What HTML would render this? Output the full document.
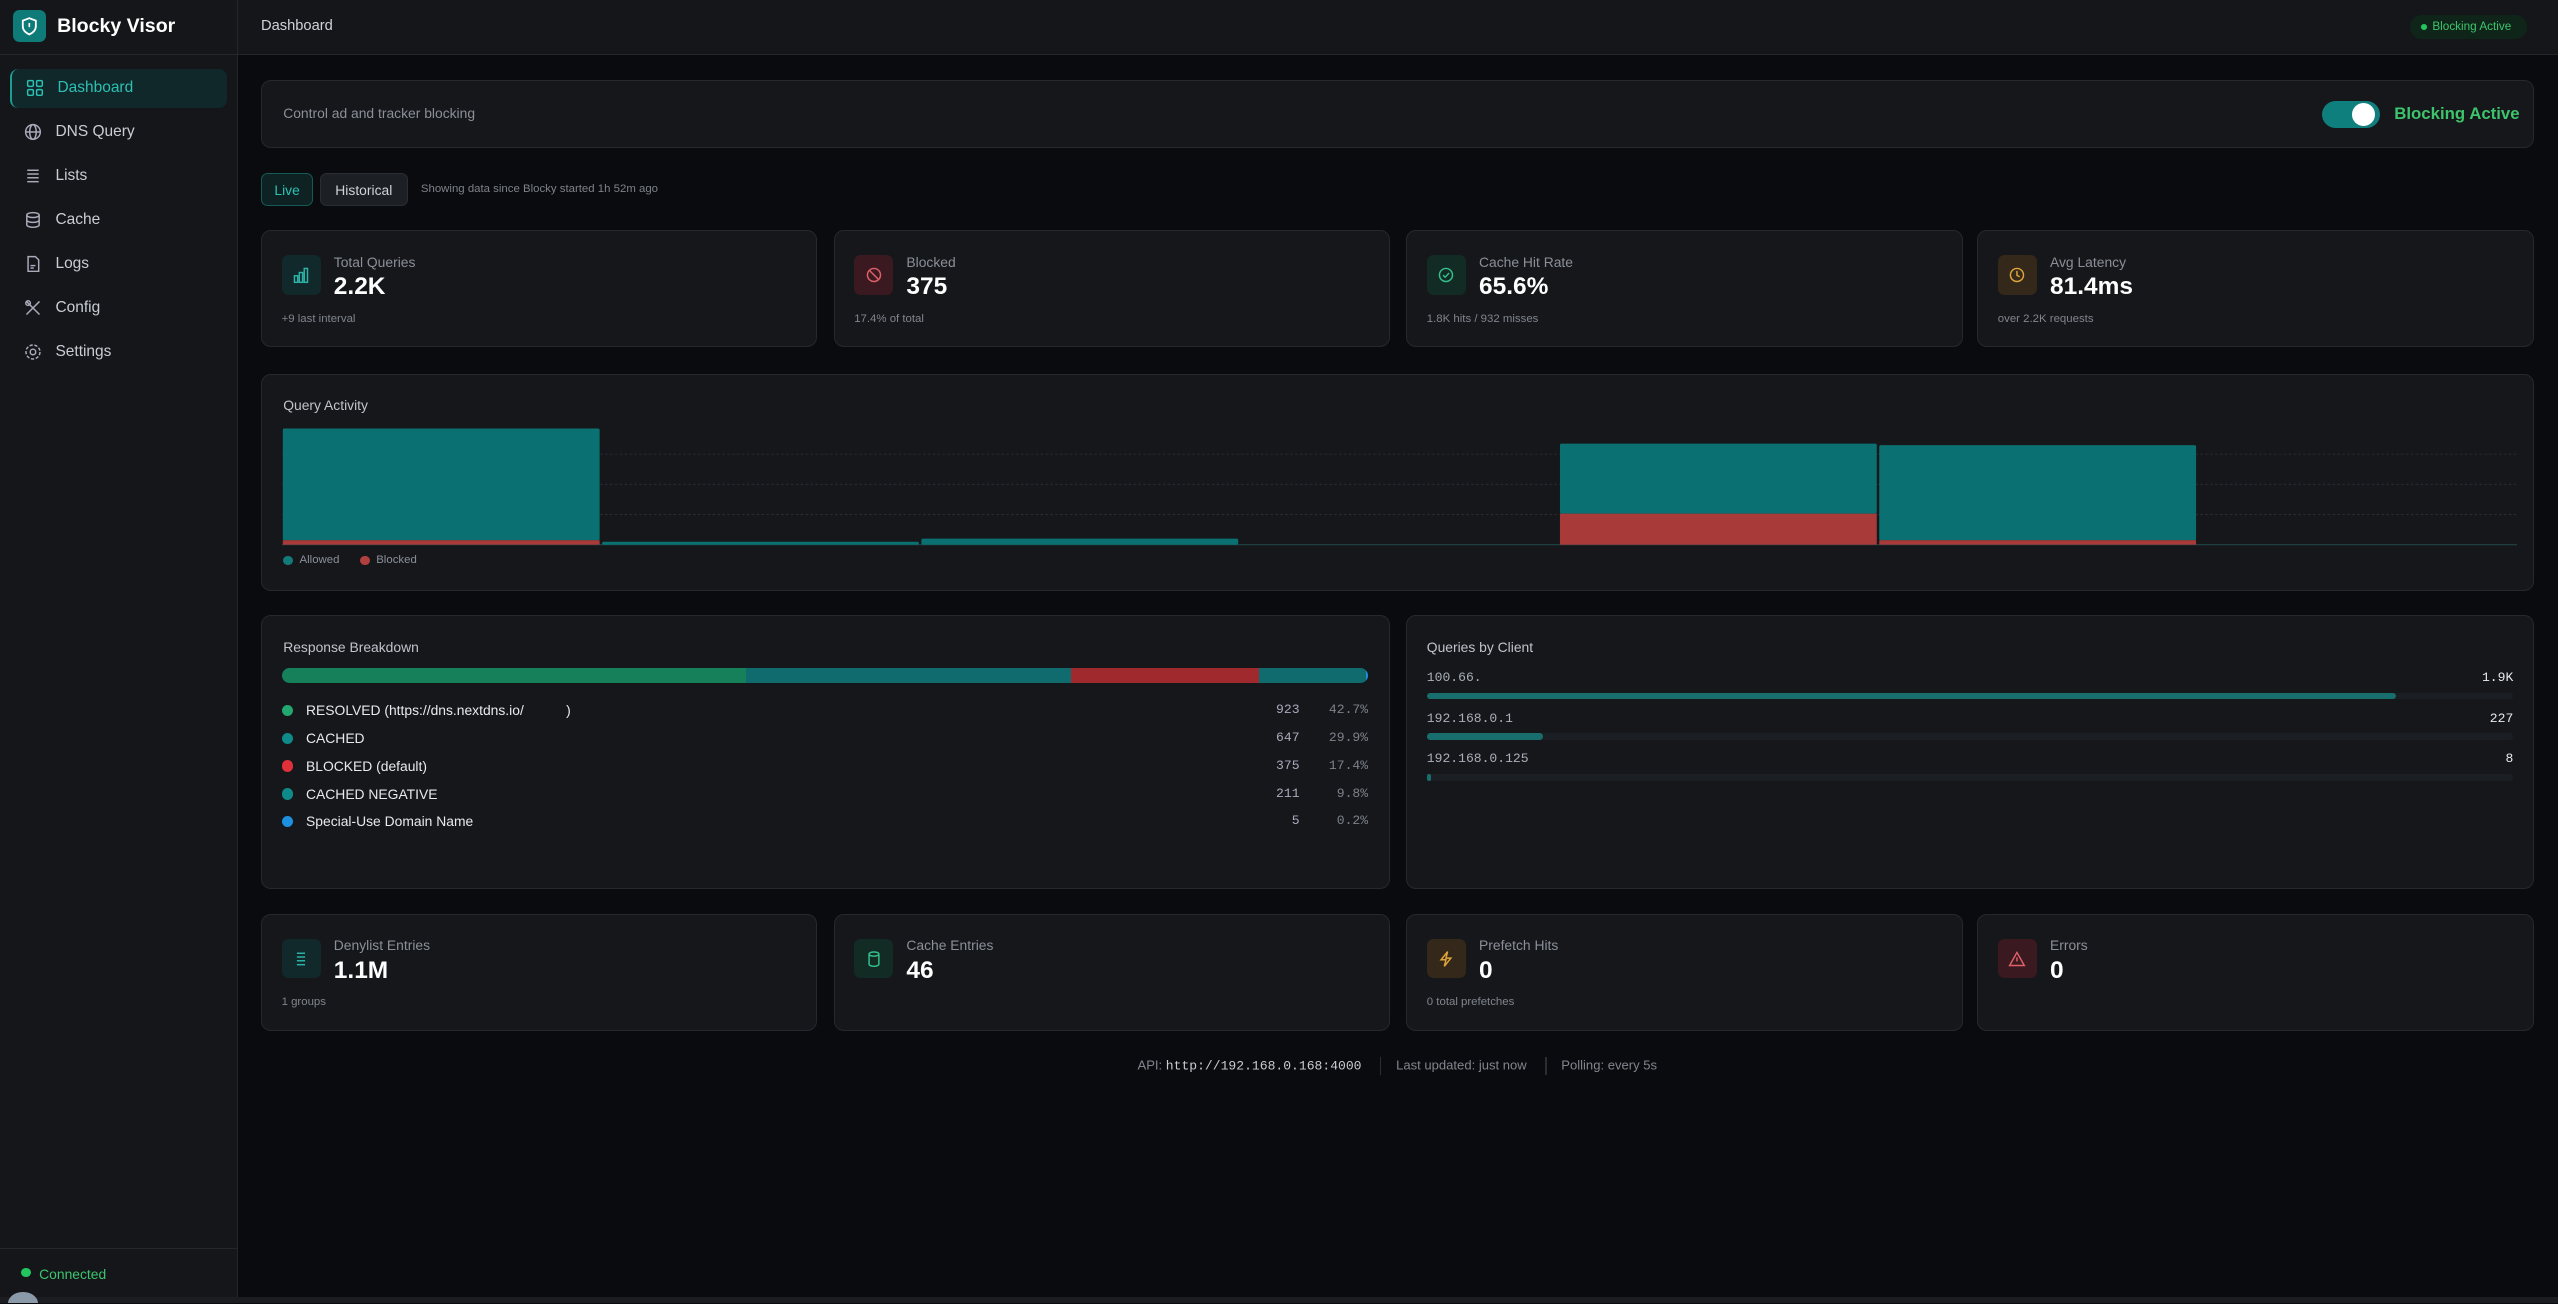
<!DOCTYPE html>
<html><head><meta charset="utf-8">
<style>
html,body{margin:0;padding:0;background:#0a0b0e;overflow:hidden;}
#root{zoom:1.63138;width:1568px;height:799px;position:relative;font-family:"Liberation Sans",sans-serif;color:#e5e7eb;background:#0a0b0e;overflow:hidden;}
.abs{position:absolute;}
.sidebar{left:0;top:0;width:145px;height:799px;background:#14161a;border-right:1px solid #23262b;}
.nav{position:absolute;left:6px;width:132px;height:24px;font-size:9.5px;color:#c9cdd3;display:flex;align-items:center;}
.nav svg{position:absolute;left:9px;}
.nav span{position:absolute;left:28px;}
.card{position:absolute;background:#15171b;border:1px solid #25282d;border-radius:6px;box-sizing:border-box;}
.stat .ib{position:absolute;left:12px;top:15px;width:24px;height:24px;border-radius:4px;display:flex;align-items:center;justify-content:center;}
.stat .lb{position:absolute;left:44px;top:14px;font-size:8.5px;color:#8b9098;}
.stat .vl{position:absolute;left:44px;top:26px;font-size:15px;font-weight:bold;color:#fff;}
.stat .sb{position:absolute;left:12px;top:50px;font-size:7px;color:#80858d;}
.mono{font-family:"Liberation Mono",monospace;}
.rrow{position:absolute;left:12px;width:666px;height:12px;font-size:8.5px;color:#e8eaed;}
.rrow .dot{position:absolute;left:0;top:1.5px;width:7px;height:7px;border-radius:50%;}
.rrow .t{position:absolute;left:15px;top:0;white-space:pre;}
.rrow .n{position:absolute;right:42px;top:0;font-family:"Liberation Mono",monospace;font-size:8px;color:#aab;}
.rrow .p{position:absolute;right:0;top:0;font-family:"Liberation Mono",monospace;font-size:8px;color:#7d828a;}
</style></head>
<body>
<div id="root">
 <div class="abs sidebar">
  <div class="abs" style="left:0;top:0;width:145px;height:33px;border-bottom:1px solid #23262b;">
   <div class="abs" style="left:8px;top:6px;width:20px;height:20px;border-radius:4px;background:#0f7b78;">
    <svg width="20" height="20" viewBox="0 0 20 20"><path d="M10 5 L14 6.5 V10 C14 12.5 12 14 10 15 C8 14 6 12.5 6 10 V6.5 Z" fill="none" stroke="#fff" stroke-width="1.1"/><line x1="10" y1="8" x2="10" y2="10.5" stroke="#fff" stroke-width="1"/></svg>
   </div>
   <div class="abs" style="left:35px;top:9px;font-size:12px;font-weight:bold;color:#fff;">Blocky Visor</div>
  </div>
  <div class="nav" style="top:42px;background:#10282a;border-left:1.5px solid #1c9c94;border-radius:5px;color:#2cc0b4;">
   <svg width="11" height="11" viewBox="0 0 11 11" fill="none" stroke="#2cc0b4" stroke-width="0.9"><rect x="1" y="1" width="3.5" height="3.5" rx="0.8"/><rect x="6.5" y="1" width="3.5" height="3.5" rx="0.8"/><rect x="1" y="6.5" width="3.5" height="3.5" rx="0.8"/><rect x="6.5" y="6.5" width="3.5" height="3.5" rx="0.8"/></svg><span>Dashboard</span></div>
  <div class="nav" style="top:69px;"><svg width="11" height="11" viewBox="0 0 11 11" fill="none" stroke="#aab" stroke-width="0.9"><circle cx="5.5" cy="5.5" r="4.5"/><ellipse cx="5.5" cy="5.5" rx="2" ry="4.5"/><line x1="1" y1="5.5" x2="10" y2="5.5"/></svg><span>DNS Query</span></div>
  <div class="nav" style="top:96px;"><svg width="11" height="11" viewBox="0 0 11 11" stroke="#aab" stroke-width="0.9"><line x1="2" y1="2" x2="9" y2="2"/><line x1="2" y1="4.3" x2="9" y2="4.3"/><line x1="2" y1="6.6" x2="9" y2="6.6"/><line x1="2" y1="9" x2="9" y2="9"/></svg><span>Lists</span></div>
  <div class="nav" style="top:123px;"><svg width="11" height="11" viewBox="0 0 11 11" fill="none" stroke="#aab" stroke-width="0.9"><ellipse cx="5.5" cy="2.5" rx="3.8" ry="1.5"/><path d="M1.7 2.5V8.5C1.7 9.3 3.4 10 5.5 10S9.3 9.3 9.3 8.5V2.5M1.7 5.5C1.7 6.3 3.4 7 5.5 7S9.3 6.3 9.3 5.5"/></svg><span>Cache</span></div>
  <div class="nav" style="top:150px;"><svg width="11" height="11" viewBox="0 0 11 11" fill="none" stroke="#aab" stroke-width="0.9"><path d="M2.5 1H7L9 3V10H2.5Z"/><line x1="4" y1="6.5" x2="7" y2="6.5"/><line x1="4" y1="8" x2="6" y2="8"/></svg><span>Logs</span></div>
  <div class="nav" style="top:177px;"><svg width="11" height="11" viewBox="0 0 11 11" fill="none" stroke="#aab" stroke-width="0.9"><path d="M1.5 1.5L9.5 9.5M9.5 1.5L1.5 9.5"/><circle cx="2.5" cy="2.5" r="1.4"/></svg><span>Config</span></div>
  <div class="nav" style="top:204px;"><svg width="11" height="11" viewBox="0 0 11 11" fill="none" stroke="#aab" stroke-width="0.9"><circle cx="5.5" cy="5.5" r="1.7"/><circle cx="5.5" cy="5.5" r="4.3" stroke-dasharray="2 1"/></svg><span>Settings</span></div>
  <div class="abs" style="left:0;top:765px;width:145px;border-top:1px solid #23262b;"></div>
  <div class="abs" style="left:13px;top:777px;width:6px;height:6px;border-radius:50%;background:#22c55e;"></div>
  <div class="abs" style="left:24px;top:776px;font-size:8.5px;color:#3dc46c;">Connected</div>
 </div>
 <div class="abs" style="left:0;top:795px;width:1568px;height:4px;background:#1c1d20;"></div>
 <div class="abs" style="left:5px;top:792px;width:18px;height:14px;border-radius:50%;background:#8a9aa8;"></div>

 <div class="abs" style="left:146px;top:0;width:1422px;height:33px;background:#14161a;border-bottom:1px solid #23262b;">
  <div class="abs" style="left:14px;top:11px;font-size:9px;color:#d0d3d8;">Dashboard</div>
  <div class="abs" style="left:1331px;top:9px;width:72px;height:15px;border-radius:8px;background:#10251a;">
   <div class="abs" style="left:7px;top:6px;width:3.5px;height:3.5px;border-radius:50%;background:#22c55e;"></div>
   <div class="abs" style="left:14px;top:3.5px;font-size:7.2px;color:#3dc46c;white-space:nowrap;">Blocking Active</div>
  </div>
 </div>

 <div class="card" style="left:160px;top:49px;width:1393px;height:42px;">
  <div class="abs" style="left:13px;top:15px;font-size:8.5px;color:#8b9098;">Control ad and tracker blocking</div>
  <div class="abs" style="left:1263px;top:12px;width:35px;height:17px;border-radius:9px;background:#0f7f7d;">
   <div class="abs" style="left:18px;top:1.5px;width:14px;height:14px;border-radius:50%;background:#fff;"></div></div>
  <div class="abs" style="left:1307px;top:14px;font-size:10.3px;font-weight:bold;color:#3dc46c;">Blocking Active</div>
 </div>

 <div class="abs" style="left:160px;top:106px;width:32px;height:20px;border:1px solid #155a55;background:#0e2224;border-radius:4px;box-sizing:border-box;font-size:8.5px;color:#2cc0b4;text-align:center;line-height:20px;">Live</div>
 <div class="abs" style="left:196px;top:106px;width:54px;height:20px;border:1px solid #2a2d32;background:#1c1f23;border-radius:4px;box-sizing:border-box;font-size:8.5px;color:#d0d3d8;text-align:center;line-height:20px;">Historical</div>
 <div class="abs" style="left:258px;top:112px;font-size:7px;color:#7d828a;">Showing data since Blocky started 1h 52m ago</div>

 <div class="card stat" style="left:160px;top:141px;width:341px;height:72px;">
  <div class="ib" style="background:#11292a;"><svg width="11" height="11" viewBox="0 0 11 11" fill="none" stroke="#2cb3a8" stroke-width="0.9"><rect x="1.5" y="6" width="2" height="4"/><rect x="4.5" y="4" width="2" height="6"/><rect x="7.5" y="1.5" width="2" height="8.5"/></svg></div>
  <div class="lb">Total Queries</div><div class="vl">2.2K</div><div class="sb">+9 last interval</div></div>
 <div class="card stat" style="left:511px;top:141px;width:341px;height:72px;">
  <div class="ib" style="background:#3a1a20;"><svg width="11" height="11" viewBox="0 0 11 11" fill="none" stroke="#e0606a" stroke-width="0.9"><circle cx="5.5" cy="5.5" r="4"/><line x1="2.7" y1="2.7" x2="8.3" y2="8.3"/></svg></div>
  <div class="lb">Blocked</div><div class="vl">375</div><div class="sb">17.4% of total</div></div>
 <div class="card stat" style="left:862px;top:141px;width:341px;height:72px;">
  <div class="ib" style="background:#122b25;"><svg width="11" height="11" viewBox="0 0 11 11" fill="none" stroke="#34c08a" stroke-width="0.9"><circle cx="5.5" cy="5.5" r="4"/><path d="M3.7 5.6L5 6.9L7.4 4.3"/></svg></div>
  <div class="lb">Cache Hit Rate</div><div class="vl">65.6%</div><div class="sb">1.8K hits / 932 misses</div></div>
 <div class="card stat" style="left:1212px;top:141px;width:341px;height:72px;">
  <div class="ib" style="background:#33281a;"><svg width="11" height="11" viewBox="0 0 11 11" fill="none" stroke="#e0a53a" stroke-width="0.9"><circle cx="5.5" cy="5.5" r="4"/><path d="M5.5 3V5.8L7.2 6.6"/></svg></div>
  <div class="lb">Avg Latency</div><div class="vl">81.4ms</div><div class="sb">over 2.2K requests</div></div>

 <div class="card" style="left:160px;top:229px;width:1393px;height:133px;">
  <div class="abs" style="left:13px;top:14px;font-size:8.5px;color:#c0c4ca;">Query Activity</div>
  <svg id="qa" class="abs" style="left:12px;top:30px;" width="1370" height="78"></svg>
  <div class="abs" style="left:13px;top:111px;width:6px;height:6px;border-radius:50%;background:#127a78;"></div>
  <div class="abs" style="left:23px;top:110px;font-size:7px;color:#8b9098;">Allowed</div>
  <div class="abs" style="left:60px;top:111px;width:6px;height:6px;border-radius:50%;background:#b04040;"></div>
  <div class="abs" style="left:70px;top:110px;font-size:7px;color:#8b9098;">Blocked</div>
 </div>

 <div class="card" style="left:160px;top:377px;width:692px;height:168px;">
  <div class="abs" style="left:13px;top:14px;font-size:8.5px;color:#c0c4ca;">Response Breakdown</div>
  <div id="rbar" class="abs" style="left:12px;top:32px;width:666px;height:9px;border-radius:5px;overflow:hidden;display:flex;"></div>
  <div id="rlist"></div>
 </div>

 <div class="card" style="left:862px;top:377px;width:691px;height:168px;">
  <div class="abs" style="left:12px;top:14px;font-size:8.5px;color:#c0c4ca;">Queries by Client</div>
  <div id="clist"></div>
 </div>

 <div class="card stat" style="left:160px;top:560px;width:341px;height:72px;">
  <div class="ib" style="background:#11292a;"><svg width="11" height="11" viewBox="0 0 11 11" stroke="#2cb3a8" stroke-width="0.9"><line x1="3" y1="2" x2="8" y2="2"/><line x1="3" y1="4.3" x2="8" y2="4.3"/><line x1="3" y1="6.6" x2="8" y2="6.6"/><line x1="3" y1="9" x2="8" y2="9"/></svg></div>
  <div class="lb">Denylist Entries</div><div class="vl">1.1M</div><div class="sb">1 groups</div></div>
 <div class="card stat" style="left:511px;top:560px;width:341px;height:72px;">
  <div class="ib" style="background:#122b25;"><svg width="11" height="11" viewBox="0 0 11 11" fill="none" stroke="#34c08a" stroke-width="0.9"><ellipse cx="5.5" cy="2.5" rx="3" ry="1.3"/><path d="M2.5 2.5V8.7C2.5 9.4 3.8 10 5.5 10S8.5 9.4 8.5 8.7V2.5"/></svg></div>
  <div class="lb">Cache Entries</div><div class="vl">46</div></div>
 <div class="card stat" style="left:862px;top:560px;width:341px;height:72px;">
  <div class="ib" style="background:#33281a;"><svg width="11" height="11" viewBox="0 0 11 11" fill="none" stroke="#e0a53a" stroke-width="0.9"><path d="M6.5 1L2.5 6H5.5L4.5 10L8.5 5H5.5Z"/></svg></div>
  <div class="lb">Prefetch Hits</div><div class="vl">0</div><div class="sb">0 total prefetches</div></div>
 <div class="card stat" style="left:1212px;top:560px;width:341px;height:72px;">
  <div class="ib" style="background:#3a1a20;"><svg width="11" height="11" viewBox="0 0 11 11" fill="none" stroke="#e0606a" stroke-width="0.9"><path d="M5.5 1.5L10 9.5H1Z"/><line x1="5.5" y1="4.5" x2="5.5" y2="7"/></svg></div>
  <div class="lb">Errors</div><div class="vl">0</div></div>

 <div class="abs" style="left:160px;top:648px;width:1393px;text-align:center;font-size:8px;color:#80858d;">
  API: <span class="mono" style="color:#c9ccd1;">http://192.168.0.168:4000</span>
  <span style="display:inline-block;width:1px;height:11px;background:#2a2d32;margin:0 9px;vertical-align:middle;"></span>Last updated: just now
  <span style="display:inline-block;width:1px;height:11px;background:#2a2d32;margin:0 9px;vertical-align:middle;"></span>Polling: every 5s
 </div>
</div>
<script>
// Query activity data
const qaAllowed = [370, 10, 20, 0, 232, 315, 0];
const qaBlocked = [15, 0, 0, 0, 103, 15, 0];
const qaMax = 400;
const qaGrid = [100, 200, 300];
// Response breakdown data
const respLabels = ["RESOLVED (https://dns.nextdns.io/           )", "CACHED", "BLOCKED (default)", "CACHED NEGATIVE", "Special-Use Domain Name"];
const respCounts = [923, 647, 375, 211, 5];
const respPct = ["42.7%", "29.9%", "17.4%", "9.8%", "0.2%"];
const respColors = ["#15805a", "#0f6b6e", "#a0292e", "#0f6b6e", "#1e90e0"];
const respDots = ["#22a86e", "#0f8a8a", "#e0303a", "#0f8a8a", "#1e90e0"];
// Clients
const clientNames = ["100.66.", "192.168.0.1", "192.168.0.125"];
const clientCounts = [1900, 227, 8];
const clientLabels = ["1.9K", "227", "8"];

const NS = "http://www.w3.org/2000/svg";
const svg = document.getElementById('qa');
const W = 1370, H = 78, base = 74;
const y = v => base - v / qaMax * base;
const bw = W / qaAllowed.length;
qaGrid.forEach(g => {
  const l = document.createElementNS(NS, 'line');
  l.setAttribute('x1', 0); l.setAttribute('x2', W);
  l.setAttribute('y1', y(g)); l.setAttribute('y2', y(g));
  l.setAttribute('stroke', '#2a2e33'); l.setAttribute('stroke-dasharray', '1.5 1.5'); l.setAttribute('stroke-width', '0.6');
  
  
  svg.appendChild(l);
});
const bl = document.createElementNS(NS, 'line');
bl.setAttribute('x1', 0); bl.setAttribute('x2', W); bl.setAttribute('y1', base); bl.setAttribute('y2', base);
bl.setAttribute('stroke', '#1f4446'); bl.setAttribute('stroke-width', '0.7');


svg.appendChild(bl);
qaAllowed.forEach((a, i) => {
  const b = qaBlocked[i];
  const x = i * bw + 0.5, w = bw - 1.5;
  if (a + b <= 0) return;
  const r1 = document.createElementNS(NS, 'rect');
  r1.setAttribute('x', x); r1.setAttribute('width', w);
  r1.setAttribute('y', y(a + b)); r1.setAttribute('height', Math.max(base - y(a), 1.5));
  r1.setAttribute('fill', '#0a7071'); r1.setAttribute('rx', '1');
  
  
  svg.appendChild(r1);
  if (b > 0) {
    const r2 = document.createElementNS(NS, 'rect');
    r2.setAttribute('x', x); r2.setAttribute('width', w);
    r2.setAttribute('y', y(b)); r2.setAttribute('height', base - y(b));
    r2.setAttribute('fill', '#a83a3a');
    
    
    svg.appendChild(r2);
  }
});
const total = respCounts.reduce((s, v) => s + v, 0);
const rbar = document.getElementById('rbar');
respCounts.forEach((c, i) => {
  const d = document.createElement('div');
  d.style.width = (c / total * 100) + '%'; d.style.height = '100%'; d.style.background = respColors[i];
  
  
  rbar.appendChild(d);
});
const rlist = document.getElementById('rlist');
respLabels.forEach((t, i) => {
  const r = document.createElement('div');
  r.className = 'rrow'; r.style.top = (53 + i * 17) + 'px';
  r.innerHTML = '<div class="dot" style="background:' + respDots[i] + '"></div><div class="t">' + t + '</div><div class="n">' + respCounts[i] + '</div><div class="p">' + respPct[i] + '</div>';
  
  
  rlist.appendChild(r);
});
const clist = document.getElementById('clist');
const cmax = 2130;
clientNames.forEach((n, i) => {
  const top = 33 + i * 25;
  const row = document.createElement('div');
  row.className = 'abs'; row.style.left = '12px'; row.style.top = top + 'px'; row.style.width = '666px'; row.style.height = '22px';
  row.innerHTML = '<div class="abs mono" style="left:0;top:0;font-size:8px;color:#aab0b8;">' + n + '</div>' +
    '<div class="abs mono" style="right:0;top:0;font-size:8px;color:#e8eaed;">' + clientLabels[i] + '</div>' +
    '<div class="abs" style="left:0;top:14px;width:666px;height:4px;border-radius:2px;background:#1b1e22;"></div>' +
    '<div class="abs" style="left:0;top:14px;width:' + Math.max(clientCounts[i] / cmax * 666, 2) + 'px;height:4px;border-radius:2px;background:#176e6c;"></div>';
  
  
  clist.appendChild(row);
});
</script>
</body></html>
